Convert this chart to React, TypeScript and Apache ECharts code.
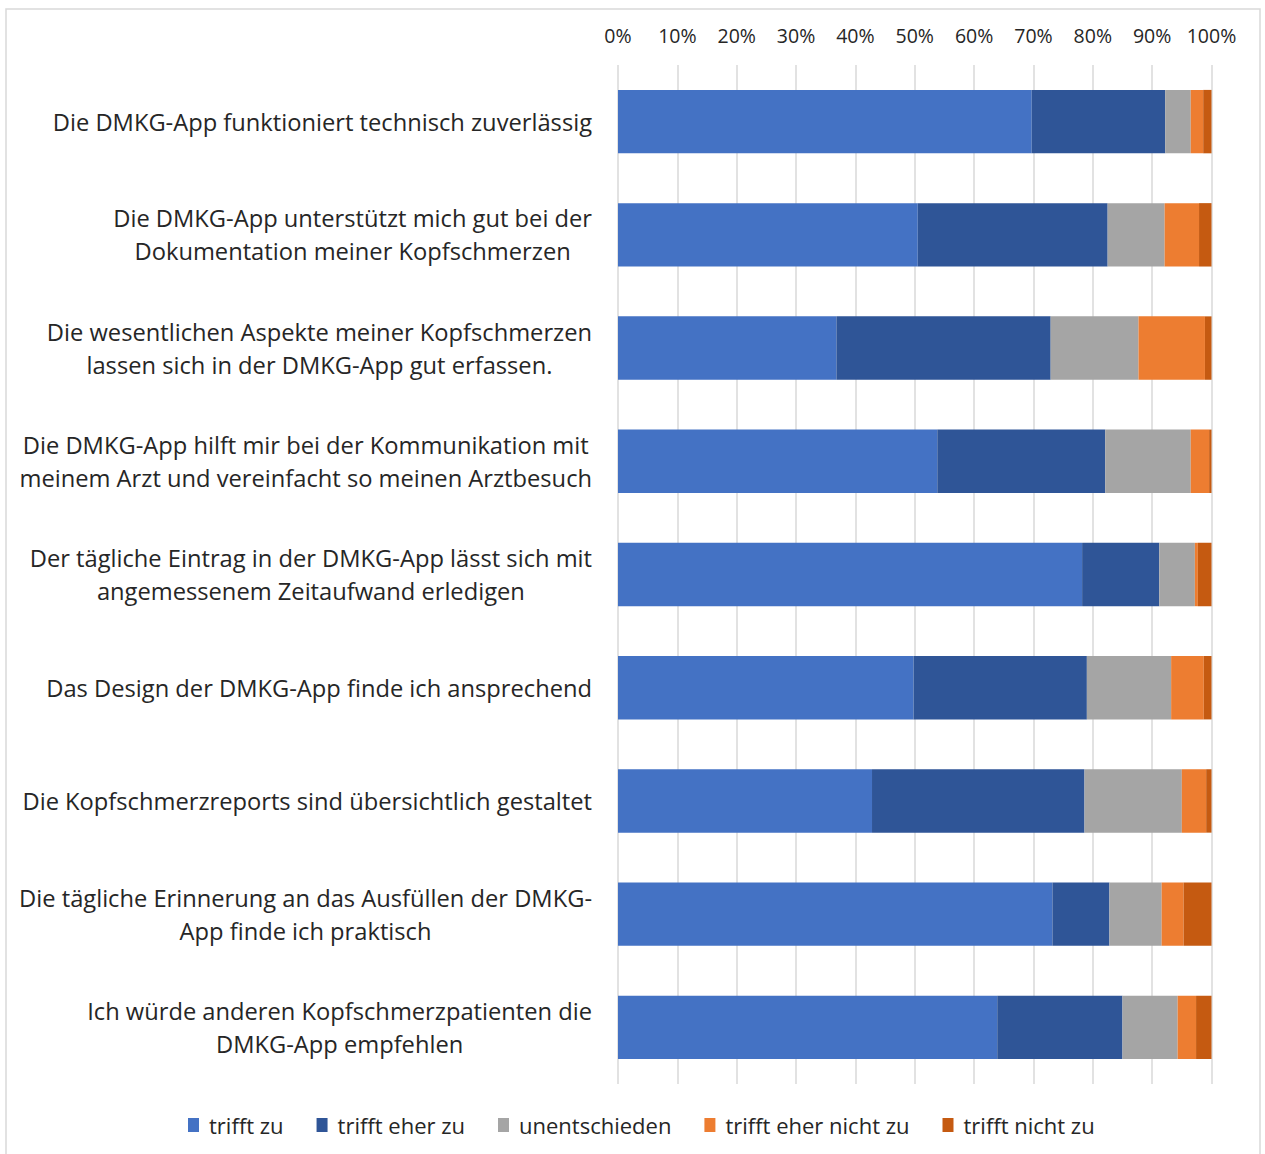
import React, { useEffect, useRef } from "react";
import * as echarts from "echarts";

const categories = [
  "Die DMKG-App funktioniert technisch zuverlässig",
  "Die DMKG-App unterstützt mich gut bei der\nDokumentation meiner Kopfschmerzen",
  "Die wesentlichen Aspekte meiner Kopfschmerzen\nlassen sich in der DMKG-App gut erfassen.",
  "Die DMKG-App hilft mir bei der Kommunikation mit\nmeinem Arzt und vereinfacht so meinen Arztbesuch",
  "Der tägliche Eintrag in der DMKG-App lässt sich mit\nangemessenem Zeitaufwand erledigen",
  "Das Design der DMKG-App finde ich ansprechend",
  "Die Kopfschmerzreports sind übersichtlich gestaltet",
  "Die tägliche Erinnerung an das Ausfüllen der DMKG-\nApp finde ich praktisch",
  "Ich würde anderen Kopfschmerzpatienten die\nDMKG-App empfehlen",
];

const seriesNames = ["trifft zu", "trifft eher zu", "unentschieden", "trifft eher nicht zu", "trifft nicht zu"];

const triffZu = [69.7, 50.5, 36.8, 53.8, 78.2, 49.8, 42.8, 73.2, 63.9];
const triffEherZu = [22.5, 32.0, 36.1, 28.3, 13.0, 29.2, 35.8, 9.6, 21.1];
const unentschieden = [4.3, 9.6, 14.8, 14.4, 6.0, 14.2, 16.4, 8.8, 9.3];
const triffEherNichtZu = [2.1, 5.8, 11.2, 3.1, 0.5, 5.5, 4.1, 3.7, 3.1];
const triffNichtZu = [1.4, 2.1, 1.1, 0.4, 2.3, 1.3, 0.9, 4.7, 2.6];

const colors = ["#4472C4", "#2F5597", "#A5A5A5", "#ED7D31", "#C55A11"];

const FONT = "Open Sans";
const LABEL_SIZE = 23.7;

export default function App() {
  const ref = useRef<HTMLDivElement>(null);
  useEffect(() => {
    if (!ref.current) return;
    const chart = echarts.init(ref.current, undefined, { renderer: "svg" });
    const data = [triffZu, triffEherZu, unentschieden, triffEherNichtZu, triffNichtZu];
    chart.setOption({
      animation: false,
      backgroundColor: "#ffffff",
      textStyle: { fontFamily: FONT },
      graphic: [
        {
          type: "rect",
          shape: { x: 6, y: 9, width: 1254, height: 1160 },
          style: { fill: "none", stroke: "#D9D9D9", lineWidth: 1.5 },
          silent: true,
        },
      ],
      grid: { left: 618, right: 1265 - 1211.5, top: 65, bottom: 1154 - 1084, containLabel: false },
      legend: {
        bottom: 13,
        left: 183,
        itemWidth: 11,
        itemHeight: 14,
        itemGap: 33,
        icon: "rect",
        textStyle: { fontFamily: FONT, fontSize: 22, color: "#262626", padding: [0, 0, 0, 5] },
        data: seriesNames,
      },
      xAxis: {
        type: "value",
        position: "top",
        min: 0,
        max: 100,
        interval: 10,
        axisLine: { show: false },
        axisTick: { show: false },
        axisLabel: { formatter: "{value}%", fontFamily: FONT, fontSize: 19.5, color: "#262626", margin: 20 },
        splitLine: { show: true, lineStyle: { color: "#D9D9D9", width: 1.5 } },
      },
      yAxis: {
        type: "category",
        inverse: true,
        data: categories,
        axisLine: { show: false },
        axisTick: { show: false },
        axisLabel: {
          fontFamily: FONT,
          fontSize: LABEL_SIZE,
          color: "#262626",
          margin: 26,
          lineHeight: 33,
          align: "right",
          formatter: (v: string) =>
            v
              .split("\n")
              .map((l) => `{c|${l}}`)
              .join("\n"),
          rich: {
            c: { align: "center", fontFamily: FONT, fontSize: LABEL_SIZE, color: "#262626", lineHeight: 33 },
          },
        },
      },
      series: seriesNames.map((name, i) => ({
        name,
        type: "bar",
        stack: "total",
        barCategoryGap: "44%",
        data: data[i],
        itemStyle: { color: colors[i] },
        emphasis: { disabled: true },
      })),
    });
    return () => chart.dispose();
  }, []);
  return <div ref={ref} style={{ position: "absolute", left: 0, top: 0, width: 1265, height: 1154 }} />;
}
